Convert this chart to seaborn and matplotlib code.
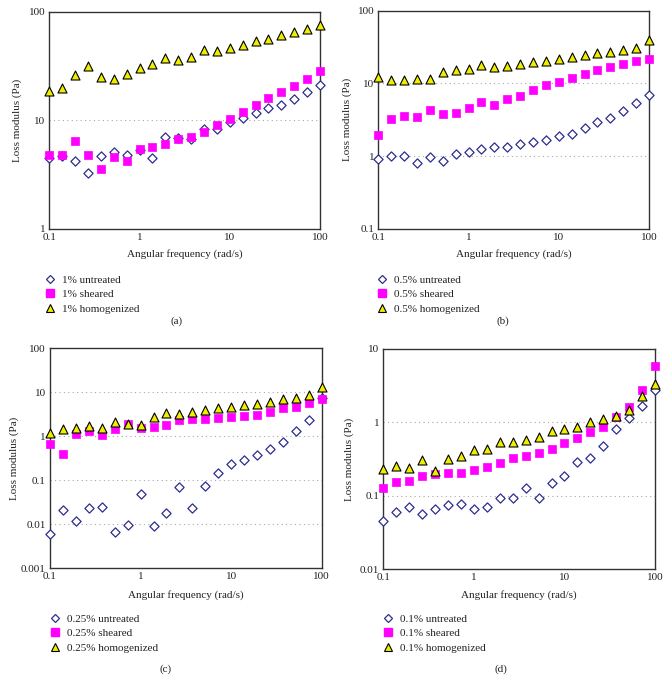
import numpy as np
import pandas as pd
import matplotlib
matplotlib.use("Agg")
import matplotlib.pyplot as plt
from matplotlib.lines import Line2D
from matplotlib.ticker import FixedLocator, FixedFormatter, NullLocator
import seaborn as sns

sns.set_style("white")
plt.rcParams['font.family'] = ['Liberation Serif', 'DejaVu Serif']

# ---------------- data ----------------
freq = [0.1, 0.139, 0.193, 0.268, 0.373, 0.518, 0.72, 1.0, 1.39, 1.93, 2.68,
        3.73, 5.18, 7.2, 10.0, 13.9, 19.3, 26.8, 37.3, 51.8, 72.0, 100.0]

a_untreated = [4.49, 4.7, 4.22, 3.30, 4.72, 5.10, 4.82, 5.36, 4.52, 7.05, 6.81,
               6.8, 8.35, 8.35, 9.68, 10.4, 11.6, 12.9, 13.9, 15.8, 18.2, 21.0]
a_sheared = [4.82, 4.84, 6.48, 4.80, 3.53, 4.59, 4.25, 5.43, 5.63, 6.12, 6.71,
             7.10, 7.89, 8.97, 10.3, 11.9, 13.7, 15.9, 18.2, 20.6, 23.9, 28.7]
a_homog = [18.7, 19.8, 26.4, 31.9, 25.1, 24.2, 26.5, 30.3, 33.0, 37.8, 36.2,
           38.0, 44.1, 43.5, 46.4, 49.4, 53.7, 56.5, 60.6, 65.1, 69.3, 76.0]

b_untreated = [0.93, 1.0, 1.0, 0.80, 0.99, 0.86, 1.09, 1.13, 1.25, 1.36, 1.35,
               1.45, 1.59, 1.69, 1.90, 2.05, 2.47, 2.92, 3.39, 4.18, 5.43, 7.0]
b_sheared = [1.98, 3.28, 3.53, 3.50, 4.31, 3.80, 3.96, 4.64, 5.49, 5.10, 6.04,
             6.78, 8.19, 9.39, 10.6, 11.9, 13.4, 15.2, 16.9, 18.6, 20.6, 21.8]
b_homog = [12.3, 11.2, 11.0, 11.7, 11.6, 14.6, 15.4, 15.9, 17.8, 16.7, 17.5,
           18.8, 19.8, 20.5, 21.5, 22.9, 24.4, 26.0, 27.2, 28.9, 30.8, 39.3]

c_untreated = [0.0059, 0.0212, 0.0121, 0.0231, 0.0243, 0.0066, 0.0095, 0.0489,
               0.0092, 0.0178, 0.0705, 0.0231, 0.0743, 0.147, 0.231, 0.285,
               0.383, 0.515, 0.731, 1.35, 2.31, 7.5]
c_sheared = [0.68, 0.40, 1.11, 1.35, 1.05, 1.49, 1.94, 1.57, 1.66, 1.84, 2.35,
             2.52, 2.43, 2.61, 2.75, 2.95, 3.11, 3.57, 4.32, 4.64, 5.62, 6.93]
c_homog = [1.17, 1.44, 1.57, 1.75, 1.55, 2.15, 1.94, 1.78, 2.80, 3.39, 3.22,
           3.57, 3.97, 4.40, 4.64, 5.15, 5.53, 6.13, 6.93, 7.30, 8.55, 13.0]

d_untreated = [0.0452, 0.0599, 0.070, 0.0569, 0.0658, 0.0746, 0.077, 0.0672,
               0.0708, 0.094, 0.094, 0.127, 0.094, 0.149, 0.189, 0.288, 0.330,
               0.475, 0.803, 1.16, 1.67, 2.76]
d_sheared = [0.129, 0.154, 0.160, 0.185, 0.197, 0.202, 0.204, 0.226, 0.249,
             0.279, 0.326, 0.348, 0.382, 0.433, 0.517, 0.611, 0.731, 0.863,
             1.18, 1.60, 2.76, 5.86]
d_homog = [0.231, 0.254, 0.236, 0.306, 0.215, 0.316, 0.348, 0.424, 0.437,
           0.545, 0.534, 0.574, 0.631, 0.754, 0.803, 0.855, 1.01, 1.12, 1.23,
           1.46, 2.31, 3.37]

x_ticks = [0.1, 1, 10, 100]
x_ticklabels = ["0.1", "1", "10", "100"]

panels = [
    dict(series=(a_untreated, a_sheared, a_homog), conc="1%",
         yticks=[1, 10, 100], ylabels=["1", "10", "100"], cap="(a)"),
    dict(series=(b_untreated, b_sheared, b_homog), conc="0.5%",
         yticks=[0.1, 1, 10, 100], ylabels=["0.1", "1", "10", "100"], cap="(b)"),
    dict(series=(c_untreated, c_sheared, c_homog), conc="0.25%",
         yticks=[0.001, 0.01, 0.1, 1, 10, 100],
         ylabels=["0.001", "0.01", "0.1", "1", "10", "100"], cap="(c)"),
    dict(series=(d_untreated, d_sheared, d_homog), conc="0.1%",
         yticks=[0.01, 0.1, 1, 10], ylabels=["0.01", "0.1", "1", "10"], cap="(d)"),
]

# ---------------- layout ----------------
W, H = 669, 691
fig = plt.figure(figsize=(W / 100, H / 100), dpi=100)

# axes boxes in pixels: left, right, top, bottom
boxes = [(49.3, 320.0, 11.7, 229.0), (378.3, 649.0, 10.7, 229.0),
         (50.0, 321.7, 348.3, 568.3), (383.3, 655.0, 349.0, 569.3)]
ylabel_x = [17, 347, 14, 349]          # pixel x of y-label centre
xlabel_y = [254, 254, 595, 595]        # pixel y of x-label centre
legend_pos = [(44.0, 275.0), (376.0, 275.0), (49.0, 614.0), (382.0, 614.0)]
cap_pos = [(177, 321), (503, 321), (166, 669), (501, 669)]

FS = 8
NAVY = "#2e2e8c"
MAGENTA = "#ff00ff"
YELLOW = "#eeee00"
SPINE = "#333333"
TXT = "#222222"

for i, (p, box) in enumerate(zip(panels, boxes)):
    l, r, t, b = box
    ax = fig.add_axes([l / W, 1 - b / H, (r - l) / W, (b - t) / H])
    ax.set_xscale("log")
    ax.set_yscale("log")
    ax.set_xlim(x_ticks[0], x_ticks[-1])
    ax.set_ylim(p["yticks"][0], p["yticks"][-1])

    # dotted horizontal gridlines at interior decades
    for yv in p["yticks"][1:-1]:
        ax.axhline(yv, color="#a8a8a8", linestyle=(0, (1, 3)), linewidth=0.8, zorder=0)

    unt, shr, hom = p["series"]
    sns.scatterplot(x=freq, y=unt, ax=ax, marker="D", s=22, color="white",
                    edgecolor=NAVY, linewidth=0.9, clip_on=False, zorder=3)
    sns.scatterplot(x=freq, y=shr, ax=ax, marker="s", s=40, color=MAGENTA,
                    edgecolor=MAGENTA, linewidth=0.5, clip_on=False, zorder=4)
    sns.scatterplot(x=freq, y=hom, ax=ax, marker="^", s=42, color=YELLOW,
                    edgecolor="black", linewidth=0.8, clip_on=False, zorder=5)

    ax.xaxis.set_major_locator(FixedLocator(x_ticks))
    ax.xaxis.set_major_formatter(FixedFormatter(x_ticklabels))
    ax.xaxis.set_minor_locator(NullLocator())
    ax.yaxis.set_major_locator(FixedLocator(p["yticks"]))
    ax.yaxis.set_major_formatter(FixedFormatter(p["ylabels"]))
    ax.yaxis.set_minor_locator(NullLocator())
    ax.tick_params(axis="both", direction="in", length=3, width=0.8,
                   color=SPINE, labelsize=FS, labelcolor=TXT, pad=3)

    for sp in ax.spines.values():
        sp.set_color(SPINE)
        sp.set_linewidth(1.0)

    ax.set_xlabel("Angular frequency (rad/s)", fontsize=FS, color=TXT)
    ax.set_ylabel("Loss modulus (Pa)", fontsize=FS, color=TXT)
    ax.xaxis.set_label_coords(0.5, -(xlabel_y[i] - b) / (b - t))
    ax.yaxis.set_label_coords(-(l - ylabel_x[i]) / (r - l), 0.5)
    ax.xaxis.label.set_verticalalignment("center")
    ax.yaxis.label.set_verticalalignment("center")

    handles = [
        Line2D([], [], linestyle="none", marker="D", markersize=4.4,
               markerfacecolor="white", markeredgecolor=NAVY, markeredgewidth=0.9),
        Line2D([], [], linestyle="none", marker="s", markersize=5.8,
               markerfacecolor=MAGENTA, markeredgecolor=MAGENTA),
        Line2D([], [], linestyle="none", marker="^", markersize=6.0,
               markerfacecolor=YELLOW, markeredgecolor="black", markeredgewidth=0.8),
    ]
    labels = [f"{p['conc']} untreated", f"{p['conc']} sheared", f"{p['conc']} homogenized"]
    lp = legend_pos[i]
    ax.legend(handles, labels, loc="upper left",
              bbox_to_anchor=(lp[0] / W, 1 - lp[1] / H),
              bbox_transform=fig.transFigure, frameon=False, fontsize=FS,
              borderpad=0, borderaxespad=0, handlelength=1.0,
              handletextpad=0.6, labelspacing=0.42, labelcolor=TXT)

    cp = cap_pos[i]
    fig.text(cp[0] / W, 1 - cp[1] / H, p["cap"], fontsize=FS, color=TXT,
             ha="center", va="center")

fig.savefig("out.png", dpi=100)
